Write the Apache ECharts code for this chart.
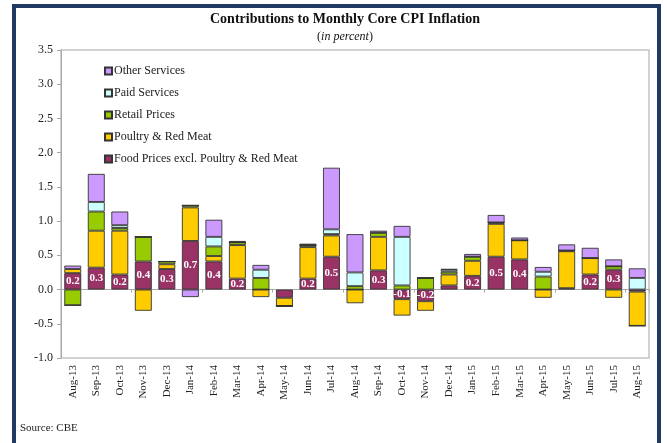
<!DOCTYPE html>
<html>
<head>
<meta charset="utf-8">
<script src="https://cdn.jsdelivr.net/npm/echarts@6/dist/echarts.min.js"></script>
<style>
  html, body { margin: 0; padding: 0; background: #fff; }
  #chart-container { width: 667px; height: 443px; }
</style>
</head>
<body>
<div id="chart-container"></div>
<script>
var months = ['Aug-13','Sep-13','Oct-13','Nov-13','Dec-13','Jan-14','Feb-14','Mar-14','Apr-14','May-14',
  'Jun-14','Jul-14','Aug-14','Sep-14','Oct-14','Nov-14','Dec-14','Jan-15','Feb-15','Mar-15',
  'Apr-15','May-15','Jun-15','Jul-15','Aug-15'];

var foodExcl = [0.24,0.32,0.22,0.41,0.30,0.71,0.41,0.16,0,-0.12,0.16,0.48,0,0.28,-0.14,-0.17,0.06,0.20,0.48,0.44,0,0.02,0.22,0.29,-0.03];
var poultryMeat = [0.06,0.54,0.64,-0.31,0.07,0.49,0.08,0.49,-0.11,-0.12,0.46,0.31,-0.20,0.49,-0.24,-0.14,0.16,0.22,0.48,0.28,-0.12,0.54,0.24,-0.12,-0.50];
var retailPrices = [-0.23,0.28,0.04,0.36,0.04,0.03,0.14,0.04,0.17,0,0.03,0.02,0.05,0.06,0.06,0.17,0.04,0.06,0.02,0,0.19,0.01,0,0.05,0];
var paidServices = [0,0.14,0.04,0,0,0,0.14,0,0.12,0,0,0.07,0.20,0,0.71,0,0.03,0,0,0,0.07,0,0,0,0.17];
var otherServices = [0.05,0.41,0.20,0,0,-0.11,0.25,0.02,0.07,0,0.02,0.90,0.56,0.03,0.16,0,0.01,0.04,0.11,0.04,0.07,0.09,0.15,0.10,0.14];

var yTicks = { min: -1.0, max: 3.5, step: 0.5 };

var serif = '"Liberation Serif", "Times New Roman", serif';
var textColor = '#222';

var dom = document.getElementById('chart-container');
var myChart = echarts.init(dom, null, { renderer: 'canvas' });

function barSeries(name, data, color) {
  return {
    name: name,
    type: 'bar',
    stack: 'cpi',
    data: data,
    barWidth: '72%',
    itemStyle: { color: color, borderColor: '#333', borderWidth: 0.9 },
    emphasis: { disabled: true }
  };
}

var food = barSeries('Food Prices excl. Poultry & Red Meat', foodExcl, '#993366');
food.label = {
  show: true,
  position: 'inside',
  color: '#fff',
  fontFamily: serif,
  fontWeight: 'bold',
  fontSize: 11,
  formatter: function (p) {
    return Math.abs(p.value) >= 0.13 ? p.value.toFixed(1) : '';
  }
};

var option = {
  animation: false,
  textStyle: { fontFamily: serif, color: textColor },
  grid: {
    left: 61, right: 18, top: 50, bottom: 85,
    show: true, borderColor: '#c4c4c4', borderWidth: 1.5, backgroundColor: '#fff'
  },
  legend: {
    orient: 'vertical',
    left: 99, top: 60,
    itemWidth: 7, itemHeight: 7, itemGap: 10,
    icon: 'rect',
    data: ['Other Services','Paid Services','Retail Prices','Poultry & Red Meat','Food Prices excl. Poultry & Red Meat'],
    textStyle: { fontFamily: serif, fontSize: 12, color: textColor, padding: [0, 0, 0, -3] }
  },
  xAxis: [
    {
      type: 'category',
      data: months,
      position: 'bottom',
      axisLine: { show: false, onZero: false },
      axisTick: { show: false },
      axisLabel: { rotate: 90, margin: 7, fontFamily: serif, fontSize: 11, color: textColor, interval: 0 }
    },
    {
      type: 'category',
      data: months,
      position: 'top',
      axisLine: { show: true, onZero: true, lineStyle: { color: '#a8a8a8', width: 1 } },
      axisTick: { show: true, inside: true, length: 3, lineStyle: { color: '#a8a8a8' } },
      axisLabel: { show: false }
    }
  ],
  yAxis: {
    type: 'value',
    min: yTicks.min, max: yTicks.max, interval: yTicks.step,
    splitLine: { show: false },
    axisLine: { show: true, lineStyle: { color: '#a8a8a8' } },
    axisTick: { show: true, length: 4, lineStyle: { color: '#a8a8a8' } },
    axisLabel: {
      fontFamily: serif, fontSize: 12, color: textColor, margin: 8,
      formatter: function (v) { return v.toFixed(1); }
    }
  },
  graphic: [
    {
      type: 'rect', z: 100, silent: true,
      shape: { x: 14, y: 6, width: 645, height: 450 },
      style: { fill: 'none', stroke: '#1f3864', lineWidth: 4 }
    },
    {
      type: 'text', z: 100, x: 345, y: 19,
      style: {
        text: 'Contributions to Monthly Core CPI Inflation',
        font: 'bold 14px ' + serif, fill: '#111',
        textAlign: 'center', textVerticalAlign: 'middle'
      }
    },
    {
      type: 'text', z: 100, x: 345, y: 37,
      style: {
        text: '({i|in percent})',
        font: '12px ' + serif, fill: '#111',
        textAlign: 'center', textVerticalAlign: 'middle',
        rich: { i: { fontStyle: 'italic', fontFamily: serif, fontSize: 12, fill: '#111' } }
      }
    },
    {
      type: 'text', left: 20, top: 423, z: 100,
      style: { text: 'Source: CBE', font: '11px ' + serif, fill: '#222' }
    }
  ],
  series: [
    food,
    barSeries('Poultry & Red Meat', poultryMeat, '#ffcc00'),
    barSeries('Retail Prices', retailPrices, '#99cc00'),
    barSeries('Paid Services', paidServices, '#ccffff'),
    barSeries('Other Services', otherServices, '#cc99ff')
  ]
};

myChart.setOption(option);
window.addEventListener('resize', myChart.resize);
</script>
</body>
</html>
